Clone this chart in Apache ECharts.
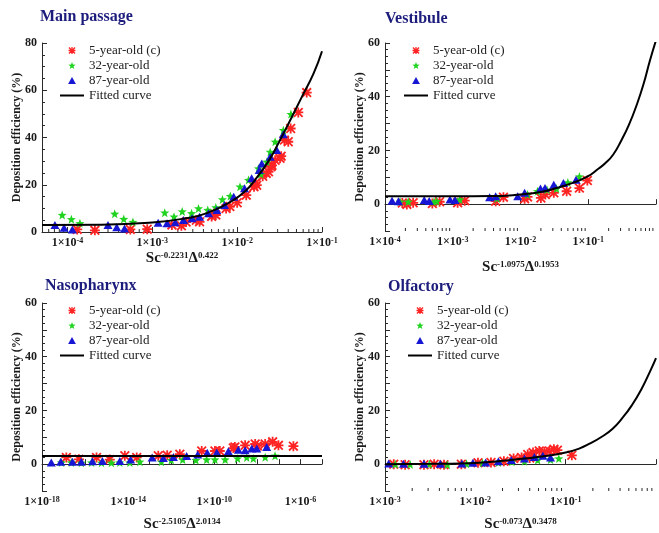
<!DOCTYPE html>
<html><head><meta charset="utf-8">
<script src="https://cdn.jsdelivr.net/npm/echarts@6/dist/echarts.min.js"></script>
<style>html,body{margin:0;padding:0;background:#fff}#c{width:659px;height:533px}</style>
</head><body><div id="c"></div>
<script>
// ---------- labels ----------
const seriesNames = ['5-year-old (c)', '32-year-old', '87-year-old', 'Fitted curve'];
const panelTitles = ['Main passage', 'Vestibule', 'Nasopharynx', 'Olfactory'];
const yAxisTitle = 'Deposition efficiency (%)';
const xAxisTitles = ['Sc{s|-0.2231}Δ{s|0.422}', 'Sc{s|-1.0975}Δ{s|0.1953}', 'Sc{s|-2.5105}Δ{s|2.0134}', 'Sc{s|-0.073}Δ{s|0.3478}'];
const xRanges = [[5e-5, 0.1], [1e-4, 1], [1e-18, 1e-5], [1e-3, 1]];
const yRanges = [[0, 80], [-10, 60], [-10, 60], [-10, 60]];
const xLabelDecades = [[-4, -3, -2, -1], [-4, -3, -2, -1], [-18, -14, -10, -6], [-3, -2, -1]];

// ---------- Main passage ----------
const mainRed = [[1.3e-4,1.1],[2.1e-4,0.7],[5.5e-4,1.1],[8.7e-4,1.2],[1.7e-3,3.0],[2.2e-3,2.6],[2.5e-3,4.2],[3.3e-3,5.0],[3.6e-3,4.3],[5.0e-3,6.6],[5.3e-3,7.8],[5.6e-3,7.2],[7.4e-3,9.9],[8.2e-3,10.8],[1.0e-2,12.4],[1.28e-2,15.6],[1.58e-2,19.2],[1.64e-2,20.6],[1.7e-2,19.8],[2.0e-2,23.6],[2.2e-2,24.8],[2.34e-2,25.5],[2.5e-2,27.6],[2.57e-2,28.2],[2.8e-2,30.4],[3.2e-2,31.2],[3.3e-2,32.1],[3.6e-2,38.9],[4.0e-2,38.2],[4.27e-2,43.8],[5.25e-2,50.6],[6.6e-2,59.0]];
const mainGreen = [[8.65e-5,7.2],[1.11e-4,5.4],[1.4e-4,3.7],[3.6e-4,7.7],[4.6e-4,5.5],[5.9e-4,4.2],[1.4e-3,8.2],[1.8e-3,6.5],[2.25e-3,8.7],[2.9e-3,7.9],[3.5e-3,10.0],[4.5e-3,9.3],[5.6e-3,10.4],[6.7e-3,13.8],[8.3e-3,15.2],[1.08e-2,19.2],[1.36e-2,22.0],[1.78e-2,26.9],[1.9e-2,24.5],[2.24e-2,29.7],[2.45e-2,33.9],[2.8e-2,38.2],[3.5e-2,43.1],[4.3e-2,49.9]];
const mainBlue = [[7.1e-5,3.0],[9.1e-5,1.8],[1.14e-4,1.1],[3.0e-4,3.0],[3.8e-4,2.0],[4.7e-4,1.5],[1.17e-3,3.9],[1.49e-3,3.7],[1.86e-3,4.1],[2.33e-3,5.1],[2.94e-3,5.8],[3.6e-3,6.5],[4.6e-3,7.9],[5.75e-3,9.3],[7.1e-3,11.4],[9.1e-3,14.9],[1.22e-2,18.5],[1.48e-2,22.7],[1.82e-2,26.2],[1.95e-2,29.0],[2.45e-2,31.8],[2.93e-2,34.7],[3.5e-2,41.4]];
const mainFit = [[5e-5,3.0],[2.5e-4,3.1],[1e-3,4.0],[2.3e-3,5.6],[4.4e-3,8.0],[9.1e-3,13.6],[1.26e-2,17.5],[1.62e-2,22.0],[2.34e-2,30.0],[3.16e-2,38.5],[3.98e-2,45.5],[5.75e-2,57.0],[7.94e-2,67.0],[1e-1,76.5]];

// ---------- Vestibule ----------
const vestRed = [[1.8e-4,0.4],[2.1e-4,-0.1],[2.6e-4,0.5],[5.0e-4,0.2],[6.4e-4,0.9],[1.18e-3,0.5],[1.5e-3,1.3],[4.3e-3,1.1],[5.6e-3,2.6],[1.15e-2,2.0],[1.27e-2,2.7],[2.0e-2,2.3],[2.33e-2,3.6],[3.1e-2,4.2],[4.8e-2,4.8],[7.4e-2,6.0],[9.7e-2,8.8]];
const vestGreen = [[1.67e-4,0.9],[2.2e-4,0.9],[5.3e-4,0.9],[5.8e-4,1.1],[1.27e-3,1.7],[4.5e-3,2.1],[1.27e-2,3.6],[1.78e-2,4.8],[2.46e-2,5.4],[3.4e-2,5.8],[5.0e-2,8.1],[7.4e-2,10.3]];
const vestBlue = [[1.27e-4,1.3],[1.58e-4,1.1],[3.8e-4,1.5],[4.5e-4,1.2],[9.1e-4,1.7],[1.08e-3,1.5],[3.5e-3,2.6],[4.3e-3,2.9],[9.1e-3,2.9],[1.15e-2,4.2],[1.97e-2,5.8],[2.3e-2,6.0],[3.1e-2,7.2],[4.3e-2,7.9],[6.6e-2,9.1]];
const vestFit = [[1e-4,2.9],[1e-3,2.95],[3.8e-3,3.0],[1e-2,3.6],[2e-2,4.5],[3.4e-2,6.0],[5.9e-2,7.9],[9.8e-2,10.3],[0.141,13.2],[0.178,15.2],[0.234,18.5],[0.309,23.8],[0.398,29.5],[0.525,37.3],[0.66,45.0],[0.81,53.3],[1,61.0]];

// ---------- Nasopharynx ----------
const nasoRed = [[1.35e-17,2.5],[5.2e-17,1.8],[3.4e-16,2.5],[1.4e-15,1.7],[7e-15,3.1],[2.5e-14,2.5],[2.5e-13,3.1],[6.5e-13,3.3],[2.5e-12,3.7],[2.6e-11,4.9],[1.07e-10,4.9],[1.8e-10,4.9],[7.6e-10,6.0],[9e-10,6.4],[2.7e-9,7.0],[7.9e-9,7.5],[1.0e-8,6.8],[2.3e-8,7.5],[5.1e-8,8.3],[9.5e-8,7.0],[4.7e-7,6.7]];
const nasoGreen = [[8e-18,0.6],[2.3e-17,0.6],[6.7e-17,0.5],[2e-16,0.6],[5.8e-16,0.5],[1.66e-15,0.5],[4.1e-15,0.6],[1.2e-14,0.6],[3.5e-14,0.9],[3.5e-13,0.9],[1.0e-12,1.5],[3.4e-12,1.7],[1.4e-11,1.5],[4.4e-11,1.7],[1.07e-10,1.7],[3.2e-10,1.7],[1.2e-9,2.1],[3.2e-9,2.5],[6.5e-9,2.1],[2.3e-8,2.6],[6.6e-8,3.1]];
const nasoBlue = [[2.7e-18,0.6],[7.4e-18,0.9],[2.6e-17,0.9],[6.7e-17,0.9],[2.2e-16,1.1],[6.4e-16,1.2],[4.1e-15,1.2],[1.3e-14,1.7],[1.3e-13,2.5],[4.3e-13,2.3],[1.26e-12,2.7],[5.2e-12,3.0],[1.7e-11,3.6],[4.7e-11,4.2],[1.3e-10,4.3],[4.5e-10,4.8],[1.3e-9,5.4],[2.7e-9,5.2],[5.5e-9,5.8],[9.4e-9,5.8],[2.7e-8,6.4]];
const nasoFit = [[1e-18,3.0],[1e-5,3.0]];

// ---------- Olfactory ----------
const olfRed = [[1.25e-3,0.0],[1.67e-3,-0.2],[2.7e-3,-0.2],[3.5e-3,0.0],[4.5e-3,-0.2],[7.0e-3,0.0],[1.07e-2,0.5],[1.49e-2,0.6],[2.07e-2,1.1],[2.65e-2,2.1],[3.25e-2,2.5],[3.8e-2,3.6],[4.0e-2,2.3],[4.35e-2,4.3],[5.1e-2,4.9],[5.8e-2,4.6],[6.6e-2,4.9],[7.4e-2,5.5],[8.1e-2,5.2],[1.17e-1,3.3]];
const olfGreen = [[1.3e-3,0.0],[1.9e-3,-0.1],[3.1e-3,0.0],[4.9e-3,-0.2],[8e-3,0.1],[1.2e-2,0.4],[1.8e-2,0.6],[2.54e-2,0.9],[3.5e-2,1.1],[4.9e-2,1.5],[6.8e-2,1.7],[8.4e-2,2.1]];
const olfBlue = [[1.1e-3,0.2],[1.6e-3,0.1],[2.7e-3,0.1],[4.1e-3,0.1],[7.1e-3,0.2],[9.4e-3,0.5],[1.3e-2,0.6],[1.8e-2,1.1],[2.5e-2,1.5],[3.5e-2,2.1],[4.5e-2,2.7],[5.6e-2,3.1],[6.8e-2,2.5]];
const olfFit = [[1e-3,0.0],[3.2e-3,0.1],[6.8e-3,0.25],[1.55e-2,0.9],[3.5e-2,2.1],[6.3e-2,3.1],[0.1,4.3],[0.141,5.8],[0.184,7.6],[0.251,10.2],[0.331,13.2],[0.427,17.3],[0.537,21.8],[0.692,28.0],[0.883,35.4],[1,39.5]];

const panelData = [
  [mainRed, mainGreen, mainBlue, mainFit],
  [vestRed, vestGreen, vestBlue, vestFit],
  [nasoRed, nasoGreen, nasoBlue, nasoFit],
  [olfRed, olfGreen, olfBlue, olfFit]
];

// ---------- styling ----------
const FONT = '"Liberation Serif", "Times New Roman", serif';
const AX = '#2a2a2a';
const colors = ['#ff2424', '#1fd31f', '#1616d4', '#000000'];
const ASTERISK = 'path://M0,4.1L10,4.1L10,5.9L0,5.9Z M4.1,0L5.9,0L5.9,10L4.1,10Z M1.3,0L10,8.7L8.7,10L0,1.3Z M8.7,0L10,1.3L1.3,10L0,8.7Z';
const STAR = 'path://M5,0L6.23,3.3L9.76,3.45L7,5.65L7.94,9.05L5,7.1L2.06,9.05L3,5.65L0.24,3.45L3.77,3.3Z';
const TRIANGLE = 'path://M5,0L10,9L0,9Z';
const symbols = [ASTERISK, STAR, TRIANGLE];
const symbolSizes = [10, 9, [9, 8]];

const grids = [
  {left: 42, top: 43, width: 280, height: 189},
  {left: 385, top: 43, width: 280, height: 188},
  {left: 42, top: 303, width: 280, height: 189},
  {left: 385, top: 303, width: 279, height: 189}
];
const titlePos = [[40, 9], [385, 11], [45, 278], [388, 279]];
const legendPos = [[54, 39], [398, 39], [54, 299], [402, 299]];
const xNameGap = [19, 29, 26, 26];

function minorTicks(lo, hi, panel) {
  if (panel === 2) return [];
  const out = [];
  for (let e = Math.floor(Math.log10(lo)); e <= Math.ceil(Math.log10(hi)); e++) {
    for (let m = 2; m <= 9; m++) {
      const v = m * Math.pow(10, e);
      if (v > lo * 1.0001 && v < hi * 0.9999) out.push([v]);
    }
  }
  return out;
}

const legendItems = seriesNames.map((n, k) => k < 3
  ? {name: n, icon: symbols[k]}
  : {name: n, itemStyle: {opacity: 0}, lineStyle: {color: '#000', width: 2}});

const option = {
  animation: false,
  backgroundColor: '#fff',
  title: panelTitles.map((t, i) => ({
    text: t, left: titlePos[i][0], top: titlePos[i][1], padding: 0,
    textStyle: {fontFamily: FONT, fontSize: 16, fontWeight: 'bold', color: '#1c1c7c'}
  })),
  grid: grids,
  legend: legendPos.map((p, i) => ({
    left: p[0], top: p[1], orient: 'vertical', itemWidth: 24, itemHeight: 7, itemGap: 2,
    selectedMode: false, data: legendItems, symbolKeepAspect: true,
    textStyle: {fontFamily: FONT, fontSize: 13, color: '#222'}
  })),
  xAxis: xRanges.map((r, i) => ({
    type: 'log', logBase: 10, gridIndex: i, min: r[0], max: r[1],
    interval: i === 2 ? 1 : undefined,
    name: xAxisTitles[i], nameLocation: 'middle', nameGap: xNameGap[i],
    nameTextStyle: {fontFamily: FONT, fontSize: 15, fontWeight: 'bold', color: '#1a1a1a',
      rich: {s: {fontFamily: FONT, fontSize: 9, fontWeight: 'bold', color: '#1a1a1a', verticalAlign: 'top'}}},
    axisLine: {lineStyle: {color: AX, width: 1}},
    axisTick: {inside: true, length: 5, lineStyle: {color: AX}},
    splitLine: {show: false},
    axisLabel: {
      margin: 5, color: '#1a1a1a', fontFamily: FONT, fontSize: 12, fontWeight: 'bold',
      formatter: v => {
        const e = Math.round(Math.log10(v));
        if (Math.abs(Math.log10(v) - e) > 1e-6) return '';
        if (xLabelDecades[i].indexOf(e) < 0) return '';
        return '1×10{s|' + e + '}';
      },
      rich: {s: {fontFamily: FONT, fontSize: 8, fontWeight: 'bold', color: '#1a1a1a', verticalAlign: 'top'}}
    }
  })),
  yAxis: yRanges.map((r, i) => ({
    type: 'value', gridIndex: i, min: r[0], max: r[1],
    name: yAxisTitle, nameLocation: 'middle', nameGap: 19, nameMoveOverlap: false,
    nameTextStyle: {fontFamily: FONT, fontSize: 12, fontWeight: 'bold', color: '#1a1a1a'},
    axisLine: {show: true, lineStyle: {color: AX, width: 1}},
    axisTick: {show: true, inside: true, length: 5, lineStyle: {color: AX}},
    minorTick: {show: true, splitNumber: 4, length: 3, lineStyle: {color: AX}},
    splitLine: {show: false},
    axisLabel: {margin: 5, color: '#1a1a1a', fontFamily: FONT, fontSize: 12, fontWeight: 'bold',
      formatter: v => (v < 0 || v % 20 !== 0) ? '' : String(v)}
  })),
  series: []
};

panelData.forEach((sets, i) => {
  for (let k = 0; k < 3; k++) {
    option.series.push({
      type: 'scatter', name: seriesNames[k], xAxisIndex: i, yAxisIndex: i,
      data: sets[k], symbol: symbols[k], symbolSize: symbolSizes[k],
      itemStyle: {color: colors[k], opacity: 1}, z: 2 + k
    });
  }
  option.series.push({
    type: 'line', name: seriesNames[3], xAxisIndex: i, yAxisIndex: i,
    data: sets[3], smooth: true, symbol: 'none', showSymbol: false,
    lineStyle: {color: '#000', width: 2}, itemStyle: {color: '#000'}, z: 6, clip: true
  });
  const yMin = yRanges[i][0];
  option.series.push({
    type: 'custom', name: 'minor-' + i, xAxisIndex: i, yAxisIndex: i, silent: true, z: 1,
    data: minorTicks(xRanges[i][0], xRanges[i][1], i),
    renderItem: (params, api) => {
      const p = api.coord([api.value(0), yMin]);
      return {type: 'line', shape: {x1: p[0], y1: p[1], x2: p[0], y2: p[1] - 3}, style: {stroke: AX, lineWidth: 1}};
    }
  });
});

const chart = echarts.init(document.getElementById('c'), null, {renderer: 'canvas'});
chart.setOption(option);
</script></body></html>
